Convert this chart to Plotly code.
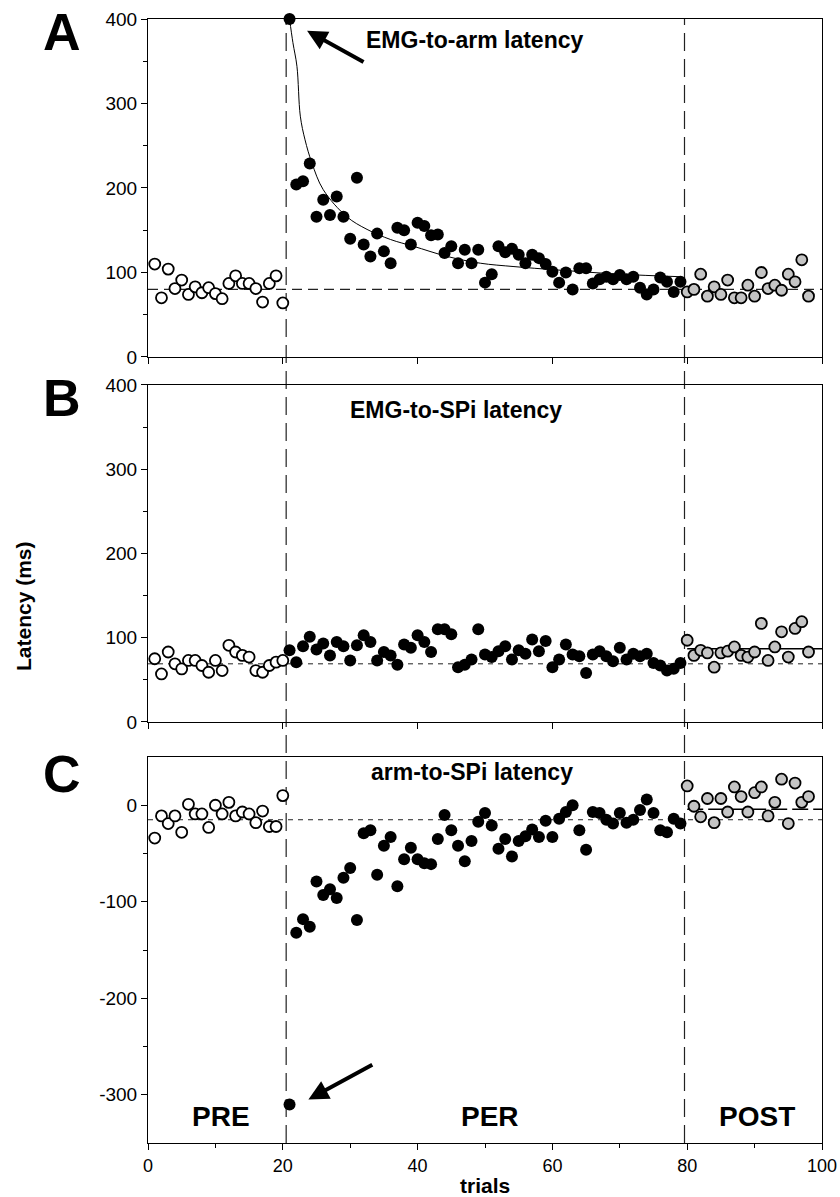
import plotly.graph_objects as go

# ---------------- data ----------------
pre_trials = list(range(1, 21))
per_trials = list(range(21, 80))
post_trials = list(range(80, 99))

# Panel A: EMG-to-arm latency (ms)
a_pre = [110, 70, 104, 81, 91, 74, 83, 76, 82, 75, 69, 87, 96, 87, 87, 81, 65, 87, 96, 64]
a_per = [400, 204, 208, 229, 166, 186, 168, 190, 166, 140, 212, 133, 119, 146, 125, 111,
         153, 150, 133, 159, 155, 144, 145, 123, 131, 111, 127, 111, 127, 88, 98, 131,
         124, 128, 121, 111, 121, 117, 110, 101, 88, 100, 80, 105, 105, 87, 92, 95, 92,
         97, 92, 95, 82, 74, 80, 94, 89, 77, 89]
a_post = [77, 80, 98, 72, 83, 74, 91, 70, 70, 85, 72, 100, 81, 85, 79, 98, 89, 115, 72]
a_fit_x = [21, 21.5, 22.1, 22.6, 23.3, 24.3, 26, 29.5, 32.5, 36, 39.4, 44.4, 49.3, 54.3,
           60.7, 70, 79]
a_fit_y = [400, 372, 344, 285, 257, 230, 198, 166, 151, 139, 131, 119, 111, 107, 103, 98, 95]
a_base = 80

# Panel B: EMG-to-SPi latency (ms)
b_pre = [75, 57, 83, 69, 63, 73, 73, 67, 59, 73, 61, 91, 83, 79, 77, 61, 59, 67, 71, 73]
b_per = [85, 71, 90, 101, 86, 93, 79, 95, 90, 73, 91, 103, 95, 73, 83, 79, 68, 92, 88,
         103, 95, 83, 110, 110, 104, 65, 68, 74, 110, 80, 77, 84, 90, 74, 85, 81, 98, 84,
         96, 65, 74, 92, 80, 78, 58, 80, 84, 78, 72, 88, 74, 81, 78, 81, 70, 67, 61, 63, 70]
b_post = [97, 79, 85, 82, 65, 82, 84, 89, 79, 77, 83, 117, 73, 89, 107, 77, 111, 119, 83]
b_base = 69
b_post_mean = 87

# Panel C: arm-to-SPi latency (ms)
c_pre = [-34, -11, -19, -11, -28, 1, -9, -9, -23, 0, -9, 3, -11, -7, -9, -18, -6, -22, -22, 10]
c_per = [-310, -132, -118, -126, -79, -93, -87, -96, -75, -65, -119, -29, -26, -72, -42,
         -33, -84, -56, -44, -56, -60, -61, -35, -10, -26, -42, -58, -37, -17, -8, -21,
         -45, -35, -53, -37, -32, -25, -33, -16, -33, -14, -7, 0, -26, -46, -7, -8, -15,
         -19, -8, -18, -15, -5, 6, -8, -26, -28, -14, -19]
c_post = [20, -1, -12, 7, -18, 7, -7, 19, 9, -7, 13, 19, -11, 3, 27, -19, 23, 3, 9]
c_base = -15
c_post_mean = -4

x_ticks = [0, 20, 40, 60, 80, 100]
c_tickvals = [0, -100, -200, -300]
c_ticktext = ["0", "-100", "-200", "-300"]
phase_bounds = [20.5, 79.6]
phase_labels = ["PRE", "PER", "POST"]
phase_label_x = [10.8, 50.7, 90.4]

# ---------------- figure ----------------
FONT = "Liberation Sans, Arial, sans-serif"
fig = go.Figure()

open_m = dict(symbol="circle", size=11, color="white", line=dict(color="black", width=1.8))
fill_m = dict(symbol="circle", size=12, color="black", line=dict(color="black", width=0))
gray_m = dict(symbol="circle", size=11, color="#c4c4c4", line=dict(color="black", width=1.8))

panels = [("x", "y", a_pre, a_per, a_post),
          ("x2", "y2", b_pre, b_per, b_post),
          ("x3", "y3", c_pre, c_per, c_post)]

# fit curve in A
fig.add_trace(go.Scatter(x=a_fit_x, y=a_fit_y, mode="lines", xaxis="x", yaxis="y",
                         line=dict(color="black", width=1), line_shape="spline",
                         hoverinfo="skip", showlegend=False))

for xa, ya, pre, per, post in panels:
    fig.add_trace(go.Scatter(x=pre_trials, y=pre, mode="markers", marker=open_m,
                             xaxis=xa, yaxis=ya, showlegend=False, cliponaxis=False))
    fig.add_trace(go.Scatter(x=per_trials, y=per, mode="markers", marker=fill_m,
                             xaxis=xa, yaxis=ya, showlegend=False, cliponaxis=False))
    fig.add_trace(go.Scatter(x=post_trials, y=post, mode="markers", marker=gray_m,
                             xaxis=xa, yaxis=ya, showlegend=False, cliponaxis=False))

# baselines
shapes = []
shapes.append(dict(type="line", xref="x", yref="y", x0=0, x1=100, y0=a_base, y1=a_base,
                   line=dict(color="#222", width=1.2, dash="10px,6px"), layer="below"))
shapes.append(dict(type="line", xref="x2", yref="y2", x0=0, x1=100, y0=b_base, y1=b_base,
                   line=dict(color="#222", width=1, dash="5px,5px"), layer="below"))
shapes.append(dict(type="line", xref="x2", yref="y2", x0=80, x1=100, y0=b_post_mean,
                   y1=b_post_mean, line=dict(color="black", width=1.5), layer="below"))
shapes.append(dict(type="line", xref="x3", yref="y3", x0=0, x1=100, y0=c_base, y1=c_base,
                   line=dict(color="#222", width=1, dash="5px,5px"), layer="below"))
shapes.append(dict(type="line", xref="x3", yref="y3", x0=80, x1=100, y0=c_post_mean,
                   y1=c_post_mean, line=dict(color="black", width=1.5, dash="16px,5px"),
                   layer="below"))
for xb in phase_bounds:
    shapes.append(dict(type="line", xref="x3", yref="paper", x0=xb, x1=xb, y0=0, y1=1,
                       line=dict(color="#222", width=1.2, dash="18px,8px"), layer="below"))

annotations = []
# panel letters
for letter, yy in [("A", 0.988), ("B", 0.663), ("C", 0.328)]:
    annotations.append(dict(text="<b>" + letter + "</b>", xref="paper", yref="paper",
                            x=-0.128, y=yy, xanchor="center", yanchor="middle",
                            showarrow=False, font=dict(family=FONT, size=52, color="black")))
# panel titles
for title, xx, yy in [("EMG-to-arm latency", 0.485, 0.981),
                      ("EMG-to-SPi latency", 0.457, 0.652),
                      ("arm-to-SPi latency", 0.480, 0.330)]:
    annotations.append(dict(text="<b>" + title + "</b>", xref="paper", yref="paper",
                            x=xx, y=yy, xanchor="center", yanchor="middle",
                            showarrow=False, font=dict(family=FONT, size=23, color="black")))
# phase labels
for lab, xx in zip(phase_labels, phase_label_x):
    annotations.append(dict(text="<b>" + lab + "</b>", xref="x3", yref="y3", x=xx, y=-323,
                            xanchor="center", yanchor="middle", showarrow=False,
                            font=dict(family=FONT, size=28, color="black")))
# arrows
annotations.append(dict(x=23.6, y=386, ax=32.2, ay=348, xref="x", yref="y", axref="x",
                        ayref="y", text="", showarrow=True, arrowhead=2, arrowsize=1,
                        arrowwidth=4, arrowcolor="black", standoff=0))
annotations.append(dict(x=23.8, y=-305, ax=33.5, ay=-268, xref="x3", yref="y3", axref="x3",
                        ayref="y3", text="", showarrow=True, arrowhead=2, arrowsize=1,
                        arrowwidth=4, arrowcolor="black", standoff=0))
# axis titles
annotations.append(dict(text="<b>Latency (ms)</b>", xref="paper", yref="paper", x=-0.185,
                        y=0.478, textangle=-90, xanchor="center", yanchor="middle",
                        showarrow=False, font=dict(family=FONT, size=21, color="black")))
annotations.append(dict(text="<b>trials</b>", xref="paper", yref="paper", x=0.5,
                        y=-0.0374, xanchor="center", yanchor="middle",
                        showarrow=False, font=dict(family=FONT, size=21, color="black")))

ax_common = dict(showline=True, linecolor="black", linewidth=1, mirror=True,
                 showgrid=False, zeroline=False, ticks="outside", tickcolor="black",
                 ticklen=6, automargin=False)

fig.update_layout(
    width=840, height=1197,
    margin=dict(l=148, r=18, t=19, b=54),
    paper_bgcolor="white", plot_bgcolor="white",
    showlegend=False, hovermode=False,
    shapes=shapes, annotations=annotations,
    xaxis=dict(domain=[0, 1], range=[0, 100], anchor="y", tickvals=x_ticks,
               showticklabels=False, **ax_common),
    xaxis2=dict(domain=[0, 1], range=[0, 100], anchor="y2", tickvals=x_ticks,
                showticklabels=False, **ax_common),
    xaxis3=dict(domain=[0, 1], range=[0, 100], anchor="y3", tickvals=x_ticks,
                tickfont=dict(family=FONT, size=18, color="black"),
                minor=dict(dtick=10, ticks="outside", ticklen=4, tickcolor="black"),
                **ax_common),
    yaxis=dict(domain=[0.6993, 1], range=[0, 400], anchor="x", dtick=100,
               tickfont=dict(family=FONT, size=19, color="black"),
               minor=dict(dtick=50, ticks="outside", ticklen=4, tickcolor="black"),
               **ax_common),
    yaxis2=dict(domain=[0.3746, 0.6744], range=[0, 400], anchor="x2", dtick=100,
                tickfont=dict(family=FONT, size=19, color="black"),
                minor=dict(dtick=50, ticks="outside", ticklen=4, tickcolor="black"),
                **ax_common),
    yaxis3=dict(domain=[0, 0.3434], range=[-350, 50], anchor="x3",
                tickvals=c_tickvals, ticktext=c_ticktext,
                tickfont=dict(family=FONT, size=19, color="black"),
                minor=dict(tickvals=[-50, -150, -250], ticks="outside", ticklen=4,
                           tickcolor="black"),
                **ax_common),
)

# remove the default 8px page margin so the 840x1197 figure fills the window exactly
fig.write_html("out.html", config={"displayModeBar": False, "staticPlot": True},
               post_script="document.body.style.margin='0';document.body.style.overflow='hidden';")
